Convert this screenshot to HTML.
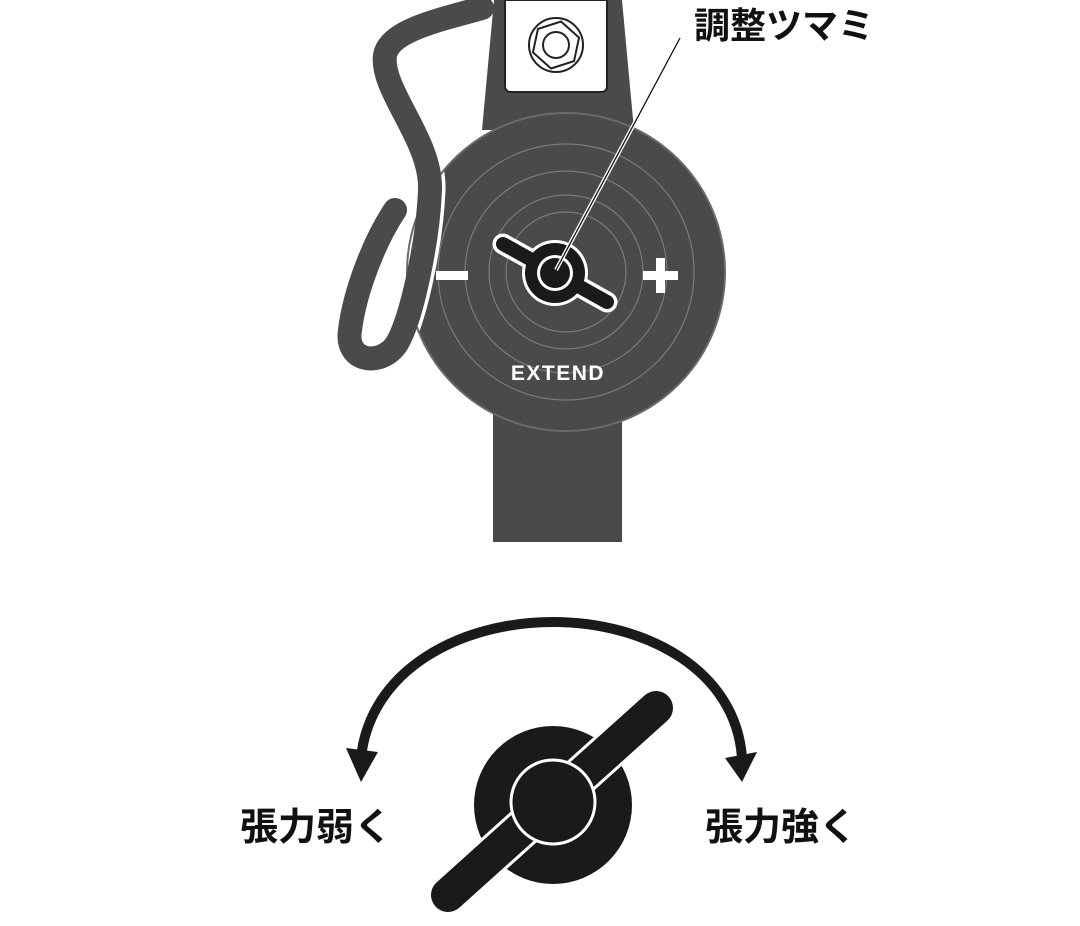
<!DOCTYPE html>
<html><head><meta charset="utf-8"><style>
html,body{margin:0;padding:0;background:#fff;}
body{width:1080px;height:926px;overflow:hidden;position:relative;}
.t{position:absolute;font-family:"Liberation Sans","Noto Sans CJK JP",sans-serif;font-weight:bold;color:#111;white-space:nowrap;}
</style></head><body>
<svg width="1080" height="926" viewBox="0 0 1080 926" style="position:absolute;left:0;top:0">
  <defs><clipPath id="cl"><circle cx="566" cy="272" r="158"/></clipPath></defs>
  <path d="M494 0 L622 0 L634 130 L482 130 Z" fill="#4a4a4a"/>
  <rect x="493" y="400" width="129" height="142" fill="#4a4a4a"/>
  <circle cx="566" cy="272" r="159" fill="#4a4a4a" stroke="#6a6a6a" stroke-width="2"/>
  <path d="M482 8 C440 20,390 30,385 55 C380 90,432 140,430 190 C428 240,412 320,396 345 C380 367,345 362,350 330 C355 290,375 240,395 210" fill="none" stroke="#fff" stroke-width="31" stroke-linecap="round" clip-path="url(#cl)"/>
  <path d="M482 8 C440 20,390 30,385 55 C380 90,432 140,430 190 C428 240,412 320,396 345 C380 367,345 362,350 330 C355 290,375 240,395 210" fill="none" stroke="#4a4a4a" stroke-width="24" stroke-linecap="round"/>
  <g fill="none" stroke="#7a7a7a" stroke-width="1.2">
    <circle cx="566" cy="272" r="128"/>
    <circle cx="566" cy="272" r="101"/>
    <circle cx="566" cy="272" r="77"/>
    <circle cx="566" cy="272" r="60"/>
  </g>
  <path d="M505 0 L607 0 L607 86 Q607 92 601 92 L511 92 Q505 92 505 86 Z" fill="#fff" stroke="#222" stroke-width="2"/>
  <circle cx="556" cy="45" r="27" fill="none" stroke="#222" stroke-width="2"/>
  <polygon points="556,21 577,33 577,57 556,69 535,57 535,33" fill="none" stroke="#222" stroke-width="2" transform="rotate(12 556 45)"/>
  <circle cx="556" cy="45" r="13" fill="none" stroke="#222" stroke-width="2"/>
  <rect x="436" y="271" width="32" height="9" fill="#fff"/>
  <rect x="643" y="271" width="35" height="9" fill="#fff"/>
  <rect x="656" y="258" width="9" height="35" fill="#fff"/>
  <line x1="503" y1="244" x2="607" y2="302" stroke="#fff" stroke-width="21" stroke-linecap="round"/>
  <circle cx="555" cy="273" r="33" fill="#fff"/>
  <circle cx="555" cy="273" r="30" fill="#1a1a1a"/>
  <line x1="503" y1="244" x2="607" y2="302" stroke="#1a1a1a" stroke-width="14" stroke-linecap="round"/>
  <circle cx="555" cy="273" r="18" fill="#fff"/>
  <circle cx="555" cy="273" r="15" fill="#1a1a1a"/>
  <line x1="680" y1="38" x2="556" y2="270" stroke="#fff" stroke-width="4"/>
  <line x1="680" y1="38" x2="556" y2="270" stroke="#111" stroke-width="1.3"/>
  <text x="558" y="380" font-family="Liberation Sans,sans-serif" font-weight="bold" font-size="21" fill="#fff" text-anchor="middle" letter-spacing="1.5">EXTEND</text>
  <path d="M361 758 C370 670,460 622,553 622 C646 622,736 670,742 758" fill="none" stroke="#1a1a1a" stroke-width="10"/>
  <polygon points="346,748 378,752 361,782" fill="#1a1a1a"/>
  <polygon points="725,758 757,752 742,782" fill="#1a1a1a"/>
  <circle cx="553" cy="805" r="79" fill="#1a1a1a"/>
  <line x1="448" y1="895" x2="656" y2="708" stroke="#fff" stroke-width="40" stroke-linecap="round"/>
  <line x1="448" y1="895" x2="656" y2="708" stroke="#1a1a1a" stroke-width="34" stroke-linecap="round"/>
  <circle cx="553" cy="802" r="42" fill="#1a1a1a" stroke="#fff" stroke-width="3"/>
</svg>
<div class="t" style="left:694px;top:5px;font-size:36px;line-height:42px;">調整ツマミ</div>
<div class="t" style="left:240px;top:805px;font-size:38px;line-height:46px;">張力弱く</div>
<div class="t" style="left:705px;top:805px;font-size:38px;line-height:46px;">張力強く</div>
</body></html>
